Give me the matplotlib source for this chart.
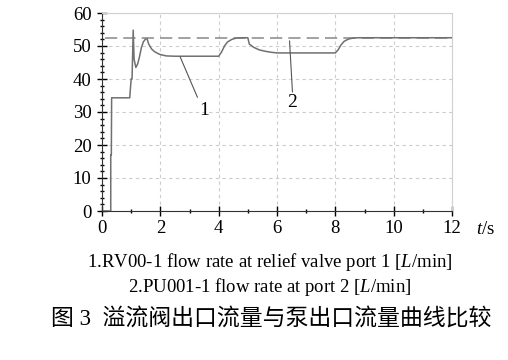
import matplotlib.pyplot as plt
from matplotlib.ticker import MultipleLocator

plt.rcParams['font.family'] = ['Liberation Serif', 'Noto Sans CJK SC']
plt.rcParams['mathtext.fontset'] = 'custom'
plt.rcParams['mathtext.it'] = 'Liberation Serif:italic'
plt.rcParams['mathtext.rm'] = 'Liberation Serif'

# curve 1: relief valve outlet flow
t1 = [0, 0.3, 0.3, 0.32, 0.33, 0.95, 1.0, 1.03, 1.07, 1.1, 1.16, 1.22, 1.28, 1.35,
      1.42, 1.5, 1.55, 1.6, 1.7, 1.8, 1.9, 2.0, 2.2, 2.5, 4.0, 4.1, 4.2, 4.3, 4.45,
      4.6, 4.8, 5.0, 5.05, 5.2, 5.4, 5.6, 5.8, 6.0, 8.0, 8.1, 8.2, 8.3, 8.45, 8.6,
      8.8, 12]
q1 = [0, 0, 17, 17, 34.3, 34.3, 40, 40, 54.8, 46, 43.5, 44.5, 46.5, 49.5,
      51.3, 52.2, 52.1, 50.6, 49.1, 48.3, 47.8, 47.4, 47.0, 46.9, 46.9, 48.2, 50.0, 51.2, 52.0,
      52.4, 52.5, 52.5, 50.6, 49.6, 48.8, 48.4, 48.1, 47.9, 47.9, 48.9, 50.4, 51.4, 52.1, 52.4,
      52.5, 52.5]

# curve 2: pump outlet flow
t2 = [0.1, 12]
q2 = [52.5, 52.5]

xticks = [0, 2, 4, 6, 8, 10, 12]
yticks = [0, 10, 20, 30, 40, 50, 60]

fig = plt.figure(figsize=(5.08, 3.6), dpi=100)
ax = fig.add_axes([102/508, 1 - 211/360, 350/508, 198/360])

ax.plot(t2, q2, color='#888888', lw=1.1, dashes=(8, 4))
ax.plot(t1, q1, color='#707070', lw=1.1)

ax.set_xlim(0, 12)
ax.set_ylim(0, 60)
ax.set_xticks(xticks)
ax.set_yticks(yticks)
ax.xaxis.set_minor_locator(MultipleLocator(1))
ax.yaxis.set_minor_locator(MultipleLocator(2))
ax.tick_params(which='major', direction='inout', length=7, width=1, labelsize=13.5)
ax.tick_params(which='minor', direction='inout', length=3.5, width=1)
ax.tick_params(axis='x', which='major', pad=3)
ax.tick_params(axis='y', which='major', pad=4)
ax.grid(True, which='major', linestyle=(0, (3, 3)), color='#cccccc', lw=0.8)
for s in ['top', 'right']:
    ax.spines[s].set_color('#d0d0d0')
for s in ['left', 'bottom']:
    ax.spines[s].set_color('#333333')

# curve labels
ax.plot([2.68, 3.27], [46.7, 34.5], color='#555555', lw=0.8)
ax.text(3.5, 30.6, '1', fontsize=14, ha='center', va='center')
ax.plot([6.43, 6.53], [51.5, 36.1], color='#555555', lw=0.8)
ax.text(6.5, 33, '2', fontsize=14, ha='center', va='center')

fig.text(486/508, 1 - 230/360, r'$t$/s', fontsize=13.5, ha='center', va='center')
fig.text(270/508, 1 - 262/360, r'1.RV00-1 flow rate at relief valve port 1 [$L$/min]',
         fontsize=13.5, ha='center', va='center')
fig.text(270/508, 1 - 287/360, r'2.PU001-1 flow rate at port 2 [$L$/min]',
         fontsize=13.5, ha='center', va='center')
fig.text(271/508, 1 - 319/360, '图 3  溢流阀出口流量与泵出口流量曲线比较',
         fontsize=16.5, ha='center', va='center', family=['Liberation Serif', 'Noto Sans CJK SC'])

fig.savefig('out.png', dpi=100)
